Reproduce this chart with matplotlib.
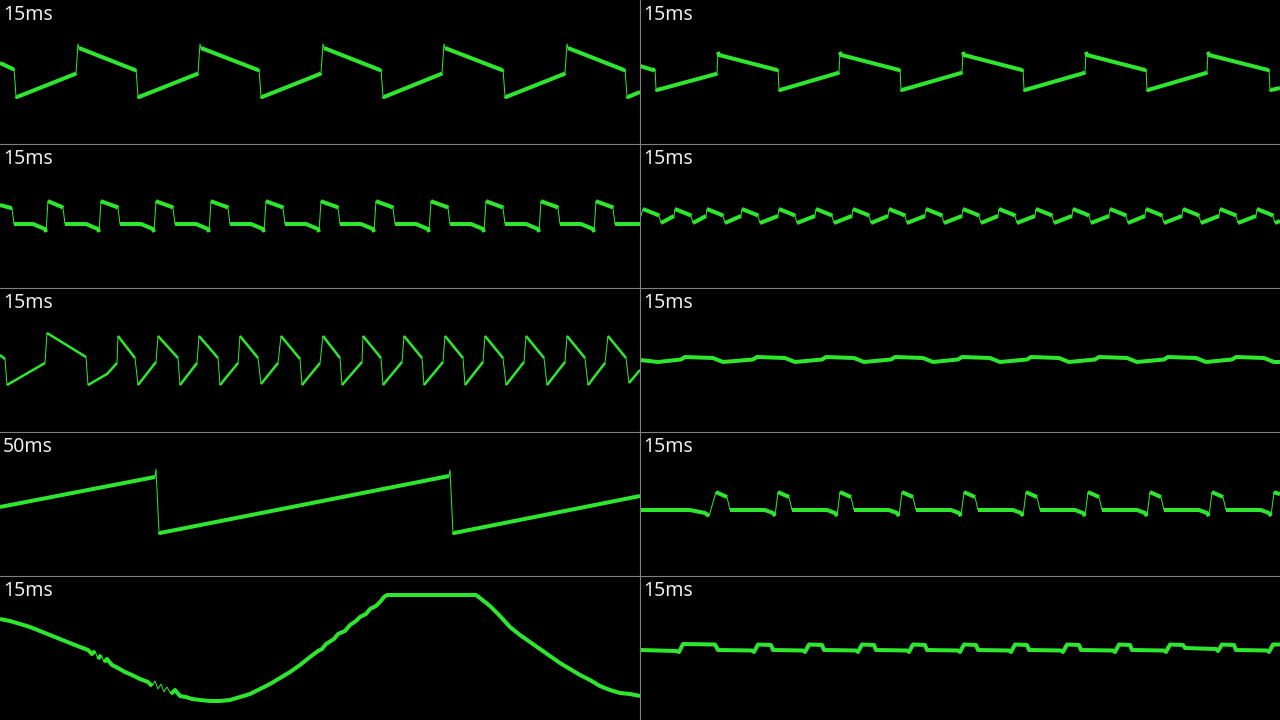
import numpy as np
import matplotlib
matplotlib.use("Agg")
import matplotlib.pyplot as plt
from matplotlib.lines import Line2D

# each trace: (x, y) points, x 0..640 px, y 0..144 px from panel top
TRACE_1 = [(0,63),(13,69),(14,68),(16,96),(17,97),(75,74),(76,73),(78,44),(79,48),(135,70),(136,69),(138,96),(139,97),
           (197,74),(198,73),(200,44),(201,48),(258,70),(259,69),(261,96),(262,97),(320,74),(321,73),(323,44),(324,48),
           (380,70),(381,69),(383,96),(384,97),(441,74),(442,73),(444,44),(445,48),(502,70),(503,69),(505,96),(506,97),
           (564,74),(565,73),(567,44),(568,48),(624,70),(625,69),(627,96),(628,97),(640,92)]
TRACE_2 = [(0,66),(13,70),(15,69),(16,89),(17,90),(76,74),(77,73),(78,52),(79,55),(137,70),(138,69),(139,89),(140,90),
           (198,73),(199,72),(200,52),(201,55),(259,70),(260,69),(261,89),(262,90),(321,73),(322,72),(323,52),(324,55),
           (382,70),(383,69),(384,89),(385,90),(444,73),(445,72),(446,52),(447,55),(505,70),(506,69),(507,89),(508,90),
           (566,73),(567,72),(568,52),(569,55),(628,70),(629,69),(630,89),(631,90),(640,88)]
TRACE_3 = [(0,61),(11,64),(12,64),(14,80),(33,80),(45,85),(46,88),
           (48,57),(50,58),(62,63),(63,64),(65,80),(86,80),(98,85),(99,88),
           (101,57),(103,58),(117,63),(118,64),(120,80),(141,80),(153,85),(154,88),
           (156,57),(158,58),(172,63),(173,64),(175,80),(196,80),(208,85),(209,88),
           (211,57),(213,58),(227,63),(228,64),(230,80),(251,80),(263,85),(264,88),
           (266,57),(268,58),(282,63),(283,64),(285,80),(306,80),(318,85),(319,88),
           (321,57),(323,58),(337,63),(338,64),(340,80),(361,80),(373,85),(374,88),
           (376,57),(378,58),(392,63),(393,64),(395,80),(416,80),(428,85),(429,88),
           (431,57),(433,58),(447,63),(448,64),(450,80),(471,80),(483,85),(484,88),
           (486,57),(488,58),(502,63),(503,64),(505,80),(526,80),(538,85),(539,88),
           (541,57),(543,58),(557,63),(558,64),(560,80),(581,80),(593,85),(594,88),
           (596,57),(598,58),(612,63),(613,64),(615,80),(640,80)]
TRACE_4 = [(0,75),(3,65),(18,71),(19,72),(21,79),(34,72),
           (35,65),(50,71),(51,72),(53,79),(66,72),
           (67,65),(82,71),(83,72),(85,79),(101,72),
           (102,65),(117,71),(118,72),(120,79),(138,72),
           (139,65),(154,71),(155,72),(157,79),(175,72),
           (176,65),(191,71),(192,72),(194,79),(212,72),
           (213,65),(228,71),(229,72),(231,79),(248,72),
           (249,65),(264,71),(265,72),(267,79),(285,72),
           (286,65),(301,71),(302,72),(304,79),(322,72),
           (323,65),(338,71),(339,72),(341,79),(358,72),
           (359,65),(374,71),(375,72),(377,79),(395,72),
           (396,65),(411,71),(412,72),(414,79),(432,72),
           (433,65),(448,71),(449,72),(451,79),(469,72),
           (470,65),(485,71),(486,72),(488,79),(505,72),
           (506,65),(521,71),(522,72),(524,79),(542,72),
           (543,65),(558,71),(559,72),(561,79),(579,72),
           (580,65),(595,71),(596,72),(598,79),(616,72),
           (617,65),(632,71),(633,72),(635,79),(640,77)]
TRACE_5 = [(0,67),(5,71),(7,97),(45,75),(47,45),(86,69),(88,97),(107,86),(117,75),(118,48),(135,70),(138,97),
           (156,74),(158,48),(178,70),(180,97),(197,75),(199,48),(218,70),(220,97),(238,75),(240,48),(258,70),
           (261,96),(278,75),(281,48),(300,71),(302,97),(320,75),(323,48),(340,70),(342,97),(362,74),(363,48),
           (381,70),(383,97),(402,74),(404,48),(422,70),(424,97),(443,74),(445,48),(463,70),(465,97),(483,74),
           (485,48),(503,70),(506,97),(524,74),(526,48),(544,70),(547,97),(565,74),(567,48),(585,70),(588,97),
           (605,75),(608,48),(626,70),(629,95),(640,82)]
TRACE_6 = [(0,72),(18,74),(41,71.5),
           (45,69),(73,70),(83,74),(113,71.5),
           (117,69),(145,70),(155,74),(182,71.5),
           (186,69),(214,70),(224,74),(251,71.5),
           (255,69),(283,70),(293,74),(318,71.5),
           (322,69),(350,70),(360,74),(387,71.5),
           (391,69),(419,70),(429,74),(455,71.5),
           (459,69),(487,70),(497,74),(524,71.5),
           (528,69),(556,70),(566,74),(592,71.5),
           (596,69),(624,70),(634,74),(640,74)]
TRACE_7 = [(0,75),(155,45),(156,37),(159,100),(160,101),(449,44),(450,38),(453,100),(454,101),(640,64)]
TRACE_8 = [(0,78),(50,78),(65,81),(69,84),(76,60),(78,61),(87,65),(90,78),
           (125,78),(133,81),(135,84),(138,60),(140,61),(149,65),(152,78),
           (187,78),(195,81),(197,84),(200,60),(202,61),(211,65),(214,78),
           (249,78),(257,81),(259,84),(262,60),(264,61),(273,65),(276,78),
           (311,78),(319,81),(321,84),(324,60),(326,61),(335,65),(338,78),
           (373,78),(381,81),(383,84),(386,60),(388,61),(397,65),(400,78),
           (435,78),(443,81),(445,84),(448,60),(450,61),(459,65),(462,78),
           (497,78),(505,81),(507,84),(510,60),(512,61),(521,65),(524,78),
           (559,78),(567,81),(569,84),(572,60),(574,61),(583,65),(586,78),
           (621,78),(629,81),(631,84),(634,60),(636,61),(640,62)]
TRACE_9 = [(0,43),(10,45),(20,48),(30,51),(40,55),(50,59),(60,63),(70,67),(80,71),(88,74),(92,78),(95,75),(98,83),
           (101,79),(104,86),(107,83),(112,89),(118,92),(125,96),(132,99),(140,103),(148,106),(152,110),(155,105),
           (158,113),(161,108),(164,116),(167,111),(171,118),(175,114),(180,120),(186,121),(192,123),(200,124),
           (210,125),(220,125),(230,124),(240,121),(250,118),(260,113),(270,108),(280,102),(290,96),(300,89),
           (310,81),(318,75),(322,73),(326,68),(334,63),(338,58),(345,55),(350,49),(356,45),(360,41),(366,38),
           (370,33),(376,30),(380,26),(384,21),(387,19),(476,19),(480,22),(490,30),(500,40),(510,51),(520,59),
           (530,66),(540,73),(550,80),(560,87),(570,93),(580,99),(590,104),(600,110),(610,114),(620,117),
           (630,118),(640,120)]
TRACE_10 = [(0,74),(36,75),(39,76),(43,68),(75,68.5),(78,74),
            (112,74.5),(114,76),(118,68.5),(131,69),(133,74),
            (163,74.5),(165,76),(169,68.5),(182,69),(184,74),
            (216,74.5),(218,76),(222,68.5),(234,69),(236,74),
            (267,74.5),(269,76),(273,68.5),(285,69),(287,74),
            (318,74.5),(320,76),(324,68.5),(336,69),(338,74),
            (369,74.5),(371,76),(375,68.5),(387,69),(389,74),
            (421,74.5),(423,76),(427,68.5),(439,69),(441,74),
            (473,74.5),(475,76),(479,68.5),(490,69),(492,74),
            (524,74.5),(526,76),(530,68.5),(543,69),(545,72),(576,73),
            (578,75),(582,68.5),(594,69),(596,74),
            (627,74.5),(629,76),(633,68.5),(640,68.5)]

LABELS = ["15ms", "15ms", "15ms", "15ms", "15ms", "15ms", "50ms", "15ms", "15ms", "15ms"]
TRACES = [TRACE_1, TRACE_2, TRACE_3, TRACE_4, TRACE_5, TRACE_6, TRACE_7, TRACE_8, TRACE_9, TRACE_10]
THICK_PX = [4, 4, 4, 4, 2.5, 4, 4, 4, 4, 4]
STEEP = [3, 3, 3, 3, 3, 3, 3, 3, 1.4, 3]

GREEN = "#2ee62e"
PX = 72 / 100  # points per pixel at dpi 100

fig = plt.figure(figsize=(12.8, 7.2), dpi=100, facecolor="black")

for i, trace in enumerate(TRACES):
    row, col = divmod(i, 2)
    ax = fig.add_axes([col * 0.5, 1 - (row + 1) * 0.2, 0.5, 0.2])
    ax.set_facecolor("black")
    ax.set_xlim(0, 640)
    ax.set_ylim(144, 0)
    ax.axis("off")

    pts = np.array(trace, dtype=float)
    # thin trace everywhere (the fast edges stay like this)
    ax.plot(pts[:, 0], pts[:, 1], color=GREEN, lw=1.0 * PX, solid_joinstyle="round")
    # slow parts drawn thick, split wherever an edge is steep
    dx = np.abs(np.diff(pts[:, 0]))
    dy = np.abs(np.diff(pts[:, 1]))
    steep = dy > STEEP[i] * dx
    start = None
    for k in range(len(steep) + 1):
        flat = k < len(steep) and not steep[k]
        if flat and start is None:
            start = k
        elif not flat and start is not None:
            run = pts[start:k + 1]
            ax.plot(run[:, 0], run[:, 1], color=GREEN, lw=THICK_PX[i] * PX,
                    solid_capstyle="butt", solid_joinstyle="round")
            start = None

    ax.text(3, 20, LABELS[i], color="#ececec", fontsize=14, va="baseline", ha="left",
            family=["Noto Sans", "DejaVu Sans"])

# grid separators
sep = "#808080"
fig.add_artist(Line2D([0.5, 0.5], [0, 1], transform=fig.transFigure, color=sep, lw=0.8))
for k in range(1, 5):
    y = 1 - k * 0.2
    fig.add_artist(Line2D([0, 1], [y, y], transform=fig.transFigure, color=sep, lw=0.8))

fig.savefig("out.png", dpi=100, facecolor="black")
